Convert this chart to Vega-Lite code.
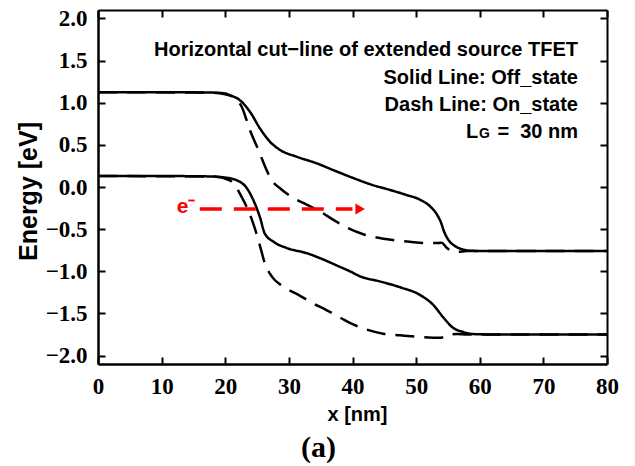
{
  "$schema": "https://vega.github.io/schema/vega-lite/v6.json",
  "width": 509,
  "height": 354,
  "autosize": {"type": "none"},
  "padding": {"left": 98, "top": 10, "right": 28, "bottom": 102},
  "background": "white",
  "config": {
    "view": {"stroke": null},
    "axis": {
      "grid": false,
      "domainColor": "black",
      "tickColor": "black",
      "labelColor": "black",
      "titleColor": "black",
      "labelFont": "Liberation Serif",
      "labelFontWeight": "bold",
      "labelFontSize": 23,
      "titleFont": "Liberation Sans",
      "titleFontWeight": "bold"
    }
  },
  "title": {
    "text": "(a)",
    "orient": "bottom",
    "font": "Liberation Serif",
    "fontWeight": "bold",
    "fontSize": 30,
    "color": "black",
    "dx": -34,
    "offset": 9
  },
  "datasets": {
    "bands": [
      {"series": "Ec_off", "state": "Off", "x": 0, "E": 1.125},
      {"series": "Ec_off", "state": "Off", "x": 10, "E": 1.125},
      {"series": "Ec_off", "state": "Off", "x": 18, "E": 1.12},
      {"series": "Ec_off", "state": "Off", "x": 20, "E": 1.11},
      {"series": "Ec_off", "state": "Off", "x": 20.7, "E": 1.09},
      {"series": "Ec_off", "state": "Off", "x": 22.3, "E": 1.03},
      {"series": "Ec_off", "state": "Off", "x": 23.9, "E": 0.89},
      {"series": "Ec_off", "state": "Off", "x": 25.5, "E": 0.69},
      {"series": "Ec_off", "state": "Off", "x": 27.0, "E": 0.54},
      {"series": "Ec_off", "state": "Off", "x": 28.6, "E": 0.44},
      {"series": "Ec_off", "state": "Off", "x": 31.2, "E": 0.36},
      {"series": "Ec_off", "state": "Off", "x": 34.4, "E": 0.28},
      {"series": "Ec_off", "state": "Off", "x": 37.0, "E": 0.2},
      {"series": "Ec_off", "state": "Off", "x": 40.0, "E": 0.11},
      {"series": "Ec_off", "state": "Off", "x": 43.3, "E": 0.02},
      {"series": "Ec_off", "state": "Off", "x": 45.9, "E": -0.035},
      {"series": "Ec_off", "state": "Off", "x": 48.5, "E": -0.095},
      {"series": "Ec_off", "state": "Off", "x": 50.6, "E": -0.15},
      {"series": "Ec_off", "state": "Off", "x": 52.2, "E": -0.23},
      {"series": "Ec_off", "state": "Off", "x": 53.3, "E": -0.33},
      {"series": "Ec_off", "state": "Off", "x": 53.9, "E": -0.42},
      {"series": "Ec_off", "state": "Off", "x": 54.4, "E": -0.53},
      {"series": "Ec_off", "state": "Off", "x": 55.1, "E": -0.63},
      {"series": "Ec_off", "state": "Off", "x": 56.1, "E": -0.7},
      {"series": "Ec_off", "state": "Off", "x": 57.3, "E": -0.74},
      {"series": "Ec_off", "state": "Off", "x": 58.5, "E": -0.757},
      {"series": "Ec_off", "state": "Off", "x": 63, "E": -0.76},
      {"series": "Ec_off", "state": "Off", "x": 80, "E": -0.76},

      {"series": "Ec_on", "state": "On", "x": 0, "E": 1.125},
      {"series": "Ec_on", "state": "On", "x": 18, "E": 1.12},
      {"series": "Ec_on", "state": "On", "x": 20, "E": 1.1},
      {"series": "Ec_on", "state": "On", "x": 21.2, "E": 1.07},
      {"series": "Ec_on", "state": "On", "x": 22.6, "E": 0.95},
      {"series": "Ec_on", "state": "On", "x": 23.9, "E": 0.67},
      {"series": "Ec_on", "state": "On", "x": 25.2, "E": 0.44},
      {"series": "Ec_on", "state": "On", "x": 26.5, "E": 0.2},
      {"series": "Ec_on", "state": "On", "x": 27.3, "E": 0.08},
      {"series": "Ec_on", "state": "On", "x": 28.6, "E": -0.015},
      {"series": "Ec_on", "state": "On", "x": 30.4, "E": -0.115},
      {"series": "Ec_on", "state": "On", "x": 32.8, "E": -0.21},
      {"series": "Ec_on", "state": "On", "x": 34.9, "E": -0.29},
      {"series": "Ec_on", "state": "On", "x": 37.0, "E": -0.39},
      {"series": "Ec_on", "state": "On", "x": 39.1, "E": -0.48},
      {"series": "Ec_on", "state": "On", "x": 41.7, "E": -0.56},
      {"series": "Ec_on", "state": "On", "x": 43.8, "E": -0.6},
      {"series": "Ec_on", "state": "On", "x": 46.4, "E": -0.63},
      {"series": "Ec_on", "state": "On", "x": 49.0, "E": -0.65},
      {"series": "Ec_on", "state": "On", "x": 51.7, "E": -0.665},
      {"series": "Ec_on", "state": "On", "x": 53.5, "E": -0.665},
      {"series": "Ec_on", "state": "On", "x": 54.0, "E": -0.66},
      {"series": "Ec_on", "state": "On", "x": 54.8, "E": -0.72},
      {"series": "Ec_on", "state": "On", "x": 55.6, "E": -0.76},
      {"series": "Ec_on", "state": "On", "x": 56.5, "E": -0.77},
      {"series": "Ec_on", "state": "On", "x": 58, "E": -0.76},
      {"series": "Ec_on", "state": "On", "x": 80, "E": -0.76},

      {"series": "Ev_off", "state": "Off", "x": 0, "E": 0.13},
      {"series": "Ev_off", "state": "Off", "x": 10, "E": 0.13},
      {"series": "Ev_off", "state": "Off", "x": 18, "E": 0.125},
      {"series": "Ev_off", "state": "Off", "x": 19.7, "E": 0.115},
      {"series": "Ev_off", "state": "Off", "x": 21.8, "E": 0.08},
      {"series": "Ev_off", "state": "Off", "x": 23.4, "E": -0.015},
      {"series": "Ev_off", "state": "Off", "x": 24.5, "E": -0.17},
      {"series": "Ev_off", "state": "Off", "x": 25.5, "E": -0.37},
      {"series": "Ev_off", "state": "Off", "x": 26.2, "E": -0.55},
      {"series": "Ev_off", "state": "Off", "x": 27.6, "E": -0.65},
      {"series": "Ev_off", "state": "Off", "x": 29.7, "E": -0.725},
      {"series": "Ev_off", "state": "Off", "x": 32.8, "E": -0.785},
      {"series": "Ev_off", "state": "Off", "x": 35.4, "E": -0.86},
      {"series": "Ev_off", "state": "Off", "x": 37.8, "E": -0.94},
      {"series": "Ev_off", "state": "Off", "x": 39.6, "E": -1.0},
      {"series": "Ev_off", "state": "Off", "x": 41.2, "E": -1.06},
      {"series": "Ev_off", "state": "Off", "x": 44.3, "E": -1.12},
      {"series": "Ev_off", "state": "Off", "x": 47.5, "E": -1.19},
      {"series": "Ev_off", "state": "Off", "x": 50.6, "E": -1.28},
      {"series": "Ev_off", "state": "Off", "x": 52.7, "E": -1.4},
      {"series": "Ev_off", "state": "Off", "x": 54.3, "E": -1.55},
      {"series": "Ev_off", "state": "Off", "x": 55.8, "E": -1.67},
      {"series": "Ev_off", "state": "Off", "x": 57.4, "E": -1.72},
      {"series": "Ev_off", "state": "Off", "x": 59, "E": -1.745},
      {"series": "Ev_off", "state": "Off", "x": 63, "E": -1.75},
      {"series": "Ev_off", "state": "Off", "x": 80, "E": -1.75},

      {"series": "Ev_on", "state": "On", "x": 0, "E": 0.13},
      {"series": "Ev_on", "state": "On", "x": 18, "E": 0.125},
      {"series": "Ev_on", "state": "On", "x": 20.7, "E": 0.08},
      {"series": "Ev_on", "state": "On", "x": 22.8, "E": -0.15},
      {"series": "Ev_on", "state": "On", "x": 23.9, "E": -0.33},
      {"series": "Ev_on", "state": "On", "x": 24.6, "E": -0.48},
      {"series": "Ev_on", "state": "On", "x": 25.5, "E": -0.71},
      {"series": "Ev_on", "state": "On", "x": 26.2, "E": -0.9},
      {"series": "Ev_on", "state": "On", "x": 27.3, "E": -1.06},
      {"series": "Ev_on", "state": "On", "x": 29.1, "E": -1.18},
      {"series": "Ev_on", "state": "On", "x": 31.5, "E": -1.28},
      {"series": "Ev_on", "state": "On", "x": 33.8, "E": -1.38},
      {"series": "Ev_on", "state": "On", "x": 35.9, "E": -1.46},
      {"series": "Ev_on", "state": "On", "x": 38.3, "E": -1.56},
      {"series": "Ev_on", "state": "On", "x": 40.1, "E": -1.63},
      {"series": "Ev_on", "state": "On", "x": 42.2, "E": -1.69},
      {"series": "Ev_on", "state": "On", "x": 44.8, "E": -1.74},
      {"series": "Ev_on", "state": "On", "x": 47.5, "E": -1.76},
      {"series": "Ev_on", "state": "On", "x": 50.6, "E": -1.78},
      {"series": "Ev_on", "state": "On", "x": 53.8, "E": -1.79},
      {"series": "Ev_on", "state": "On", "x": 54.8, "E": -1.755},
      {"series": "Ev_on", "state": "On", "x": 56.4, "E": -1.745},
      {"series": "Ev_on", "state": "On", "x": 58, "E": -1.75},
      {"series": "Ev_on", "state": "On", "x": 80, "E": -1.75}
    ],
    "notes": [
      {"x": 75.44, "E": 1.55, "text": "Horizontal cut−line of extended source TFET"},
      {"x": 75.44, "E": 1.219, "text": "Solid Line: Off_state"},
      {"x": 75.44, "E": 0.899, "text": "Dash Line: On_state"},
      {"x": 75.44, "E": 0.58, "text": "=\u00a0\u00a030 nm"}
    ]
  },
  "resolve": {"axis": {"x": "independent", "y": "independent"}},
  "layer": [
    {
      "data": {"name": "bands"},
      "mark": {"type": "line", "color": "black", "strokeWidth": 2.5, "interpolate": "monotone"},
      "encoding": {
        "x": {
          "field": "x", "type": "quantitative",
          "scale": {"domain": [0, 80], "nice": false},
          "axis": {
            "orient": "bottom", "values": [0, 10, 20, 30, 40, 50, 60, 70, 80],
            "labelFlush": false,
            "tickSize": -7, "tickWidth": 2, "domainWidth": 2.5, "labelPadding": 18,
            "title": "x [nm]", "titleFontSize": 20, "titleX": 259, "titleY": 56,
            "titleBaseline": "alphabetic", "titleAlign": "center"
          }
        },
        "y": {
          "field": "E", "type": "quantitative",
          "scale": {"domain": [-2.1, 2.1], "nice": false, "zero": false},
          "axis": {
            "orient": "left", "values": [-2, -1.5, -1, -0.5, 0, 0.5, 1, 1.5, 2],
            "labelFlush": false,
            "format": ".1f", "tickSize": -7, "tickWidth": 2, "domainWidth": 2.5, "labelPadding": 18,
            "title": "Energy [eV]", "titleFontSize": 25, "titleX": -62, "titleY": 181,
            "titleAngle": 270, "titleBaseline": "alphabetic", "titleAlign": "center"
          }
        },
        "detail": {"field": "series"},
        "strokeDash": {
          "field": "state", "type": "nominal",
          "scale": {"domain": ["Off", "On"], "range": [[1, 0], [19, 10]]},
          "legend": null
        }
      }
    },
    {
      "data": {"values": [{"x": 16, "x2": 40, "E": -0.26}]},
      "mark": {"type": "rule", "color": "#ff0000", "strokeWidth": 3.5, "strokeDash": [22, 12]},
      "encoding": {
        "x": {"field": "x", "type": "quantitative", "axis": null},
        "x2": {"field": "x2"},
        "y": {"field": "E", "type": "quantitative", "axis": null}
      }
    },
    {
      "data": {"values": [{"x": 41.2, "E": -0.26}]},
      "mark": {"type": "point", "shape": "triangle-right", "filled": true, "color": "#ff0000", "size": 120, "opacity": 1},
      "encoding": {
        "x": {"field": "x", "type": "quantitative", "axis": null},
        "y": {"field": "E", "type": "quantitative", "axis": null}
      }
    },
    {
      "data": {"values": [{"x": 15.3, "E": -0.31, "text": "e⁻"}]},
      "mark": {"type": "text", "align": "right", "baseline": "alphabetic", "color": "#ff0000", "font": "Liberation Sans", "fontWeight": "bold", "fontSize": 21},
      "encoding": {
        "x": {"field": "x", "type": "quantitative", "axis": null},
        "y": {"field": "E", "type": "quantitative", "axis": null},
        "text": {"field": "text"}
      }
    },
    {
      "data": {"name": "notes"},
      "mark": {"type": "text", "align": "right", "baseline": "alphabetic", "color": "black", "font": "Liberation Sans", "fontWeight": "bold", "fontSize": 20},
      "encoding": {
        "x": {
          "field": "x", "type": "quantitative",
          "axis": {
            "orient": "top", "values": [0, 10, 20, 30, 40, 50, 60, 70, 80],
            "labels": false, "tickSize": -7, "tickWidth": 2, "domainWidth": 2, "title": null
          }
        },
        "y": {
          "field": "E", "type": "quantitative",
          "axis": {
            "orient": "right", "values": [-2, -1.5, -1, -0.5, 0, 0.5, 1, 1.5, 2],
            "labels": false, "tickSize": -7, "tickWidth": 2, "domainWidth": 2, "title": null
          }
        },
        "text": {"field": "text"}
      }
    },
    {
      "data": {"values": [{"x": 59.75, "E": 0.58, "text": "L"}]},
      "mark": {"type": "text", "align": "right", "baseline": "alphabetic", "color": "black", "font": "Liberation Sans", "fontWeight": "bold", "fontSize": 20},
      "encoding": {
        "x": {"field": "x", "type": "quantitative", "axis": null},
        "y": {"field": "E", "type": "quantitative", "axis": null},
        "text": {"field": "text"}
      }
    },
    {
      "data": {"values": [{"x": 61.6, "E": 0.58, "text": "G"}]},
      "mark": {"type": "text", "align": "right", "baseline": "alphabetic", "color": "black", "font": "Liberation Sans", "fontWeight": "bold", "fontSize": 14},
      "encoding": {
        "x": {"field": "x", "type": "quantitative", "axis": null},
        "y": {"field": "E", "type": "quantitative", "axis": null},
        "text": {"field": "text"}
      }
    }
  ]
}
